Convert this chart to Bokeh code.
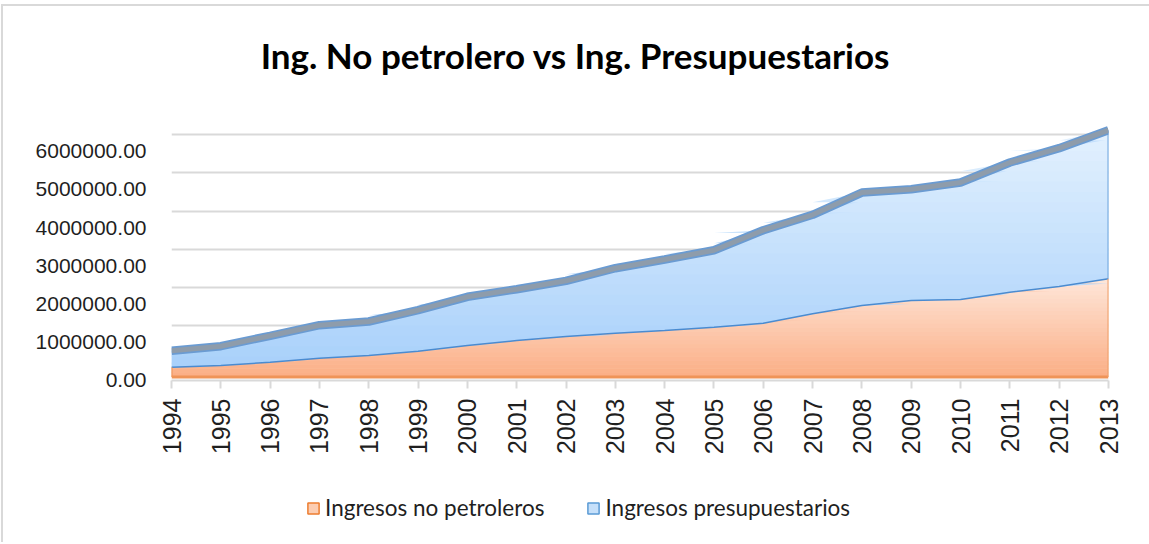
import numpy as np
from bokeh.plotting import figure
from bokeh.layouts import column
from bokeh.models import (Range1d, LinearAxis, FixedTicker, NumeralTickFormatter,
                          Grid, Legend, LegendItem, Label)
from bokeh.embed import file_html
from bokeh.resources import INLINE

# ---------------- data ----------------
years = list(range(1994, 2014))
no_petroleros = [257000, 301000, 387000, 492000, 563000, 675000, 825000, 955000,
                 1060000, 1147000, 1217000, 1304000, 1408000, 1654000, 1872000,
                 2003000, 2029000, 2220000, 2369000, 2571000]
presupuestarios = [429000, 505000, 692000, 864000, 890000, 1074000, 1274000, 1343000,
                   1458000, 1701000, 1859000, 2015000, 2435000, 2592000, 2958000,
                   2913000, 3063000, 3395000, 3621000, 3890000]
y_ticks = [0, 1000000, 2000000, 3000000, 4000000, 5000000, 6000000]
title_text = "Ing. No petrolero vs Ing. Presupuestarios"
series_names = ["Ingresos no petroleros", "Ingresos presupuestarios"]

x = np.array(years, dtype=float)
low = np.array(no_petroleros, dtype=float)
top = low + np.array(presupuestarios, dtype=float)

W = 1146

# ---------------- title strip ----------------
pt = figure(width=W, height=114, output_backend="svg", toolbar_location=None,
            x_range=Range1d(0, 1), y_range=Range1d(0, 1), min_border=0)
pt.axis.visible = False
pt.grid.visible = False
pt.outline_line_color = None
pt.border_fill_color = "white"
pt.add_layout(Label(x=404, y=66, x_units="screen", y_units="screen", text=title_text,
                    text_align="center", text_baseline="middle",
                    text_font="Lato", text_font_style="bold",
                    text_font_size="35px", text_color="#000000"))

# ---------------- main figure ----------------
p = figure(width=W, height=366, output_backend="svg", toolbar_location=None,
           x_range=Range1d(1994, 2013), y_range=Range1d(-91600, 6715000),
           y_axis_location=None, min_border_left=168, min_border_right=41,
           min_border_top=0, min_border_bottom=106)
p.outline_line_color = None
p.background_fill_color = "white"
p.border_fill_color = "white"
p.xgrid.visible = False
p.ygrid.visible = False

p.extra_y_ranges = {"lab": Range1d(-1000, 6806000), "wall": Range1d(-432000, 6374000)}

# back-wall gridlines
wall_axis = LinearAxis(y_range_name="wall", ticker=FixedTicker(ticks=y_ticks), visible=False)
p.add_layout(wall_axis, "right")
grid = Grid(dimension=1, ticker=FixedTicker(ticks=y_ticks), y_range_name="wall",
            grid_line_color="#d9d9d9", grid_line_width=2)
p.add_layout(grid)

# value axis
yax = LinearAxis(y_range_name="lab", ticker=FixedTicker(ticks=y_ticks),
                 formatter=NumeralTickFormatter(format="0.00"))
yax.axis_line_color = None
yax.major_tick_line_color = None
yax.minor_tick_line_color = None
yax.major_label_standoff = 19
yax.major_label_text_font = "Liberation Sans"
yax.major_label_text_font_size = "21px"
yax.major_label_text_color = "#1f1f1f"
p.add_layout(yax, "left")

# category axis
xax = p.xaxis[0]
xax.ticker = FixedTicker(ticks=years)
xax.major_label_orientation = np.pi / 2
xax.axis_line_color = "#d9d9d9"
xax.axis_line_width = 2
xax.major_tick_line_color = "#d9d9d9"
xax.major_tick_line_width = 2
xax.major_tick_out = 8
xax.major_tick_in = 0
xax.minor_tick_line_color = None
xax.major_label_standoff = 10
xax.major_label_text_font = "Liberation Sans"
xax.major_label_text_font_size = "25px"
xax.major_label_text_color = "#1f1f1f"

# ---------------- areas with vertical gradient ----------------
def lerp(c1, c2, t):
    a = np.array([int(c1[i:i + 2], 16) for i in (1, 3, 5)], dtype=float)
    b = np.array([int(c2[i:i + 2], 16) for i in (1, 3, 5)], dtype=float)
    c = a + (b - a) * t
    return "#%02x%02x%02x" % tuple(int(round(v)) for v in c)

def gradient_area(y_lo, y_hi, c_bottom, c_top, lo_level, hi_level, n=24):
    p.varea(x=x, y1=y_lo, y2=y_hi, fill_color=lerp(c_bottom, c_top, 0.5))
    edges = np.linspace(lo_level, hi_level, n + 1)
    for k in range(n):
        a, b = edges[k], edges[k + 1] + (hi_level - lo_level) * 0.004
        y1 = np.clip(y_lo, a, b)
        y2 = np.clip(y_hi, a, b)
        if np.all(y2 <= y1):
            continue
        p.varea(x=x, y1=y1, y2=y2, fill_color=lerp(c_bottom, c_top, (k + 0.5) / n))

zeros = np.zeros_like(low)
gradient_area(zeros, low, "#fbae85", "#fee6d9", 0, low.max())
gradient_area(low, top, "#a6cffa", "#e3f1fe", 0, top.max())

# series edges
p.line(x, low, line_color="#4a8bd0", line_width=1.5)
p.segment(x0=[x[-1]], y0=[low[-1]], x1=[x[-1]], y1=[top[-1]], line_color="#6ea6dd", line_width=2)
p.segment(x0=[x[0]], y0=[0], x1=[x[-1]], y1=[0], line_color="#ef9458", line_width=3)
p.segment(x0=[x[-1]], y0=[0], x1=[x[-1]], y1=[low[-1]], line_color="#f0a06b", line_width=2)
p.segment(x0=[x[0]], y0=[0], x1=[x[0]], y1=[low[0]], line_color="#ef9458", line_width=2)
# top face of the stacked total
p.line(x, top, line_color="#6a9bd2", line_width=8.5)
p.line(x, top, line_color="#8e9cab", line_width=5)

# ---------------- legend strip ----------------
pl = figure(width=W, height=56, output_backend="svg", toolbar_location=None,
            x_range=Range1d(0, 1), y_range=Range1d(0, 1), min_border=0)
pl.axis.visible = False
pl.grid.visible = False
pl.outline_line_color = None
pl.border_fill_color = "white"
r1 = pl.quad(left=[-5], right=[-4], bottom=[-5], top=[-4], fill_color="#fccdb2",
             line_color="#ed7d31", line_width=1.5)
r2 = pl.quad(left=[-5], right=[-4], bottom=[-5], top=[-4], fill_color="#c6e0fa",
             line_color="#5b9bd5", line_width=1.5)
lg = Legend(items=[LegendItem(label=series_names[0], renderers=[r1]),
                   LegendItem(label=series_names[1], renderers=[r2])],
            location=(135, 21), orientation="horizontal", padding=0, margin=0,
            spacing=42, border_line_color=None, background_fill_alpha=0,
            glyph_width=14, glyph_height=14, label_standoff=5,
            label_text_font="Lato", label_text_font_size="22.5px",
            label_text_color="#1f1f1f", label_height=26)
pl.add_layout(lg)

layout = column(pt, p, pl, spacing=0, margin=(4, 0, 0, 1),
                styles={"border-top": "2px solid #d9d9d9", "border-left": "2px solid #d9d9d9"})

open("out.html", "w").write(file_html(layout, INLINE))
